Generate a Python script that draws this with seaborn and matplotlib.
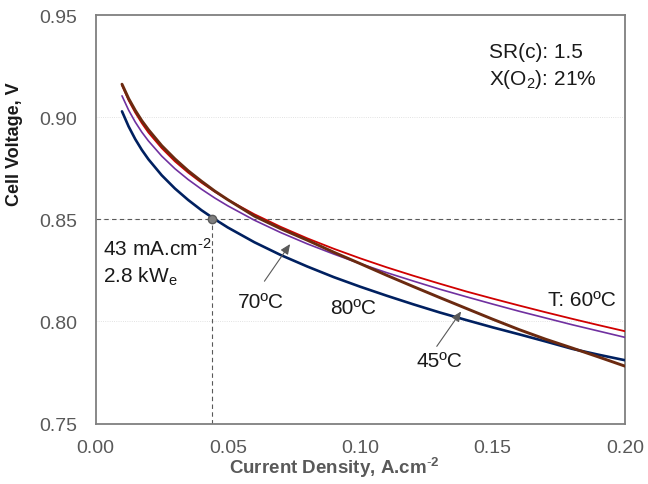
import numpy as np
import pandas as pd
import matplotlib
matplotlib.use("Agg")
import matplotlib.pyplot as plt
from matplotlib.ticker import MultipleLocator, FormatStrFormatter
import seaborn as sns

# ---- data ----
current_density = [0.010, 0.0125, 0.015, 0.0175, 0.020, 0.025, 0.030, 0.035,
                   0.040, 0.045, 0.050, 0.060, 0.070, 0.080, 0.090, 0.100,
                   0.110, 0.120, 0.130, 0.140, 0.150, 0.160, 0.170, 0.180,
                   0.190, 0.200]
v_60C = [0.9157, 0.9083, 0.9023, 0.8971, 0.8925, 0.8849, 0.8784, 0.8729,
         0.8680, 0.8636, 0.8596, 0.8525, 0.8463, 0.8407, 0.8356, 0.8309,
         0.8265, 0.8224, 0.8185, 0.8147, 0.8112, 0.8078, 0.8045, 0.8013,
         0.7982, 0.7952]
v_70C = [0.9105, 0.9035, 0.8977, 0.8927, 0.8884, 0.8810, 0.8748, 0.8695,
         0.8648, 0.8605, 0.8566, 0.8496, 0.8435, 0.8380, 0.8330, 0.8283,
         0.8239, 0.8198, 0.8158, 0.8121, 0.8085, 0.8050, 0.8017, 0.7984,
         0.7953, 0.7922]
v_80C = [0.9029, 0.8955, 0.8893, 0.8840, 0.8794, 0.8716, 0.8651, 0.8595,
         0.8545, 0.8501, 0.8460, 0.8388, 0.8325, 0.8269, 0.8217, 0.8170,
         0.8126, 0.8084, 0.8044, 0.8007, 0.7971, 0.7937, 0.7902, 0.7866,
         0.7837, 0.7810]
v_45C = [0.9162, 0.9092, 0.9034, 0.8983, 0.8939, 0.8861, 0.8796, 0.8738,
         0.8687, 0.8639, 0.8596, 0.8516, 0.8454, 0.8398, 0.8339, 0.8283,
         0.8226, 0.8171, 0.8117, 0.8064, 0.8011, 0.7960, 0.7913, 0.7870,
         0.7826, 0.7781]

series_names = ["70ºC", "80ºC", "60ºC", "45ºC"]
series_values = [v_70C, v_80C, v_60C, v_45C]
series_colors = ["#7030A0", "#002060", "#D00000", "#6B2A10"]
series_widths = [1.2, 1.9, 1.3, 2.1]

op_current = 0.0441
op_voltage = 0.85

x_ticks = [0.00, 0.05, 0.10, 0.15, 0.20]
y_ticks = [0.75, 0.80, 0.85, 0.90, 0.95]

# ---- styling ----
sns.set_theme(style="white")
plt.rcParams["font.family"] = ["Liberation Sans", "DejaVu Sans"]
plt.rcParams["mathtext.fontset"] = "custom"
plt.rcParams["mathtext.rm"] = "Liberation Sans"
plt.rcParams["mathtext.it"] = "Liberation Sans:italic"
plt.rcParams["mathtext.bf"] = "Liberation Sans:bold"

frames = []
for name, vals in zip(series_names, series_values):
    frames.append(pd.DataFrame({"j": current_density, "V": vals, "T": name}))
df = pd.concat(frames, ignore_index=True)

fig = plt.figure(figsize=(6.48, 4.85), dpi=100)
ax = fig.add_axes([0.1474, 0.1247, 0.8171, 0.8419])

# light gridlines
for yv in y_ticks[1:-1]:
    ax.axhline(yv, color="#D9D9D9", lw=0.6, ls=":", zorder=0)

# operating point guides
ax.axhline(op_voltage, color="#595959", lw=0.8, ls=(0, (4, 3)), zorder=1)
ax.plot([op_current, op_current], [0.75, op_voltage], color="#595959", lw=0.8,
        ls=(0, (4, 3)), zorder=1)

for name, col, lw in zip(series_names, series_colors, series_widths):
    sns.lineplot(data=df[df["T"] == name], x="j", y="V", color=col, lw=lw,
                 ax=ax, zorder=3)

ax.plot([op_current], [op_voltage], "o", ms=6, color="#7F7F7F",
        mec="#595959", mew=1.0, zorder=5)

ax.set_xlim(0.0, 0.20)
ax.set_ylim(0.75, 0.95)
ax.set_xticks(x_ticks)
ax.set_yticks(y_ticks)
ax.xaxis.set_major_formatter(FormatStrFormatter("%.2f"))
ax.yaxis.set_major_formatter(FormatStrFormatter("%.2f"))
ax.xaxis.set_minor_locator(MultipleLocator(0.01))
ax.yaxis.set_minor_locator(MultipleLocator(0.01))
ax.tick_params(axis="both", which="both", direction="in", color="#7F7F7F",
               width=0.8, labelcolor="#595959", labelsize=14)
ax.tick_params(axis="both", which="major", length=5)
ax.tick_params(axis="both", which="minor", length=5)
ax.tick_params(axis="y", pad=13)
ax.tick_params(axis="x", pad=11)

for sp in ax.spines.values():
    sp.set_color("#7F7F7F")
    sp.set_linewidth(1.3)

ax.set_xlabel(r"Current Density, A.cm$\mathbf{^{\text{-}2}}$", fontsize=13.5,
              fontweight="bold", color="#595959")
ax.set_ylabel("Cell Voltage, V", fontsize=13, fontweight="bold", color="#1A1A1A")
ax.xaxis.set_label_coords(0.45, -0.077)
ax.yaxis.set_label_coords(-0.137, 0.687)

tkw = dict(fontsize=15, color="#1A1A1A", va="baseline", ha="left")
ax.text(0.0028, 0.8324, r"43 mA.cm$\mathregular{^{\text{-}2}}$", **tkw)
ax.text(0.0028, 0.8197, r"2.8 kW$\mathregular{_e}$", **tkw)
ax.text(0.0536, 0.8070, "70ºC", **tkw)
ax.text(0.0886, 0.8041, "80ºC", **tkw)
ax.text(0.1710, 0.8080, "T: 60ºC", **tkw)
ax.text(0.1213, 0.7782, "45ºC", **tkw)
ax.text(0.1487, 0.9296, "SR(c): 1.5", **tkw)
ax.text(0.1487, 0.9164, r"X(O$\mathregular{_2}$): 21%", **tkw)

akw = dict(arrowstyle="-|>,head_length=0.5,head_width=0.22", color="#595959",
           lw=0.8, shrinkA=0, shrinkB=0)
ax.annotate("", xy=(0.0735, 0.8379), xytext=(0.0638, 0.8197), arrowprops=akw)
ax.annotate("", xy=(0.1381, 0.8049), xytext=(0.1289, 0.7878), arrowprops=akw)

fig.savefig("out.png", dpi=100)
